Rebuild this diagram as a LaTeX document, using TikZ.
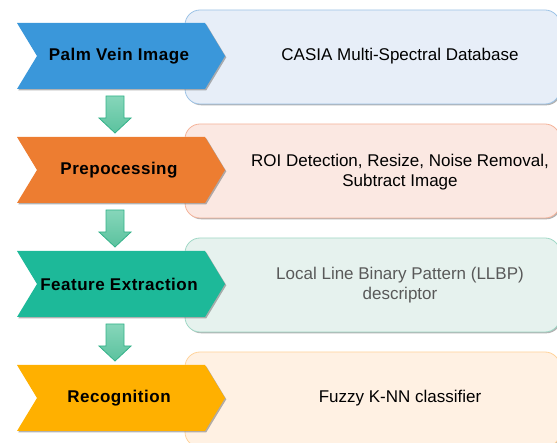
\documentclass[tikz,border=0pt]{standalone}
\usepackage{fontspec}
\setmainfont{Liberation Sans}
\newfontfamily\chevfont[LetterSpace=3]{Liberation Sans}
\usetikzlibrary{calc,shadows}
\definecolor{cBlue}{HTML}{3A97DA}
\definecolor{fBlue}{HTML}{E7EEF8}
\definecolor{bBlue}{HTML}{9DC3E6}
\definecolor{cOrange}{HTML}{ED7D31}
\definecolor{fOrange}{HTML}{FBE8E2}
\definecolor{bOrange}{HTML}{F4B39A}
\definecolor{cTeal}{HTML}{1DB999}
\definecolor{fTeal}{HTML}{E6F2EE}
\definecolor{bTeal}{HTML}{A0D8C6}
\definecolor{cGold}{HTML}{FFB000}
\definecolor{fGold}{HTML}{FFF1E3}
\definecolor{bGold}{HTML}{FFD39B}
\definecolor{aTop}{HTML}{86D6BA}
\definecolor{aBot}{HTML}{5BC29E}
\definecolor{aLine}{HTML}{33B289}
\definecolor{grayText}{HTML}{595959}
\begin{document}
\begin{tikzpicture}[x=1pt,y=-1pt,
  shd/.style={drop shadow={shadow xshift=1.3pt,shadow yshift=-1.3pt,fill=black!55,opacity=0.55}},
  descbox/.style={rounded corners=15pt,line width=0.8pt,shd},
  chevshape/.style={shd},
  chevtext/.style={font=\chevfont\bfseries\fontsize{17}{20}\selectfont,text=black,inner sep=0pt},
  desctext/.style={font=\fontsize{17}{20}\selectfont,text=black,align=center,inner sep=0pt},
  downarrow/.style={top color=aTop,bottom color=aBot,draw=aLine,line width=0.8pt}
]
\useasboundingbox (0,0) rectangle (557,443);
\clip (0,0) rectangle (557,443);

% description boxes
\path[descbox,fill=fBlue,draw=bBlue] (185,10) rectangle (560,104);
\path[descbox,fill=fOrange,draw=bOrange] (185,124) rectangle (560,218);
\path[descbox,fill=fTeal,draw=bTeal] (185,238) rectangle (560,332);
\path[descbox,fill=fGold,draw=bGold] (185,352) rectangle (560,447);

% chevrons
\foreach \c/\col in {56/cBlue,170/cOrange,284/cTeal,398/cGold}{
  \path[chevshape,fill=\col] (17,\c-33) -- (205,\c-33) -- (225,\c) -- (205,\c+33) -- (17,\c+33) -- (37,\c) -- cycle;
}

% texts
\node[chevtext] (s1) at (119,56) {Palm Vein Image};
\node[chevtext] (s2) at (119,170) {Prepocessing};
\node[chevtext] (s3) at (119,284) {Feature Extraction};
\node[chevtext] (s4) at (119,398) {Recognition};

\node[desctext] (d1) at (400,56) {CASIA Multi-Spectral Database};
\node[desctext] (d2) at (400,172) {ROI Detection, Resize, Noise Removal,\\Subtract Image};
\node[desctext,text=grayText] (d3) at (400,285) {Local Line Binary Pattern (LLBP)\\descriptor};
\node[desctext] (d4) at (400,398) {Fuzzy K-NN classifier};

% down arrows
\foreach \i in {1,2,3}{
  \draw[downarrow] ($(s\i)+(-13,40)$) -- ($(s\i)+(5,40)$) -- ($(s\i)+(5,62)$) -- ($(s\i)+(12,62)$)
    -- ($(s\i)+(-4,77)$) -- ($(s\i)+(-20,62)$) -- ($(s\i)+(-13,62)$) -- cycle;
}
\end{tikzpicture}
\end{document}
